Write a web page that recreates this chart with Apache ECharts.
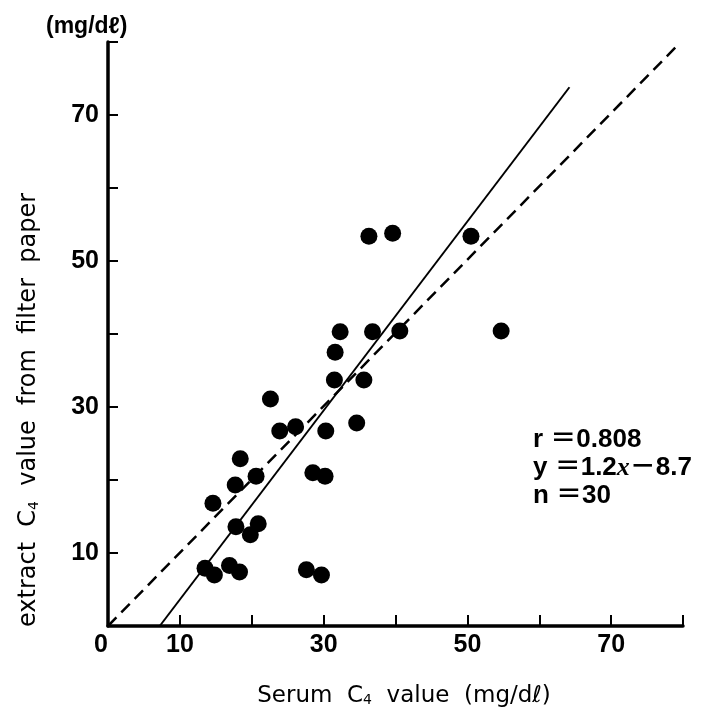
<!DOCTYPE html>
<html>
<head>
<meta charset="utf-8">
<script src="https://cdn.jsdelivr.net/npm/echarts@6/dist/echarts.min.js"></script>
<style>
html,body{margin:0;padding:0;background:#fff;}
#chart{width:705px;height:714px;}
</style>
</head>
<body>
<div id="chart"></div>
<script>
// ---- data ----
const serumC4 = [32.3, 36.8, 40.6, 31.6, 31.5, 35.6, 22.6, 23.9, 26.1, 30.3, 34.6, 18.4, 20.6, 17.7, 28.5, 30.2, 14.6, 17.8, 20.9, 19.8, 13.5, 14.8, 16.9, 18.3, 27.6, 29.7, 36.3, 39.6, 50.5, 54.7];
const paperC4 = [40.3, 40.3, 40.4, 37.5, 33.7, 33.7, 31.1, 26.7, 27.3, 26.7, 27.8, 22.9, 20.5, 19.3, 21.0, 20.5, 16.8, 13.6, 14.0, 12.5, 7.9, 7.0, 8.3, 7.4, 7.7, 7.0, 53.4, 53.8, 53.4, 40.4];
const regLineX = [7.2, 64.2];
const regLineY = [0, 73.8];
const identityX = [0, 79.5];
const identityY = [0, 79.8];
const xTickLabels = ['0', '10', '30', '50', '70'];
const yTickLabels = ['10', '30', '50', '70'];
const statLines = ['r ＝0.808', 'y ＝1.2{i|x}－8.7', 'n ＝30'];

const BOLD = "'Liberation Sans', 'Noto Sans CJK JP', sans-serif";
const REG = "'DejaVu Sans', 'Liberation Sans', sans-serif";

const zip = (a, b) => a.map((v, i) => [v, b[i]]);

const chart = echarts.init(document.getElementById('chart'), null, {renderer: 'canvas'});
const option = {
  backgroundColor: '#fff',
  animation: false,
  title: {
    text: '(mg/dℓ)',
    left: 41, top: 10,
    textStyle: {fontFamily: BOLD, fontWeight: 'bold', fontSize: 23, color: '#000'}
  },
  grid: {left: 108, right: 22, top: 42, bottom: 88, containLabel: false},
  xAxis: {
    type: 'value', min: 0, max: 80, interval: 10,
    splitLine: {show: false},
    axisLine: {show: true, onZero: false, lineStyle: {color: '#000', width: 3.5}},
    axisTick: {show: true, inside: true, length: 11, lineStyle: {color: '#000', width: 2}},
    axisLabel: {
      show: true, margin: 7, color: '#000', fontFamily: BOLD, fontWeight: 'bold', fontSize: 25,
      alignMinLabel: 'right',
      formatter: v => xTickLabels.includes(String(v)) ? String(v) : ''
    }
  },
  yAxis: {
    type: 'value', min: 0, max: 80, interval: 10,
    splitLine: {show: false},
    axisLine: {show: true, onZero: false, lineStyle: {color: '#000', width: 3.5}},
    axisTick: {show: true, inside: true, length: 10, lineStyle: {color: '#000', width: 2}},
    axisLabel: {
      show: true, margin: 9, color: '#000', fontFamily: BOLD, fontWeight: 'bold', fontSize: 25,
      formatter: v => yTickLabels.includes(String(v)) ? String(v) : ''
    }
  },
  graphic: [
    {
      type: 'text', x: 404, y: 696,
      style: {
        text: '{a|Serum  C}{s|4}{a|  value  (mg/dℓ)}',
        align: 'center', verticalAlign: 'middle',
        rich: {
          a: {fontFamily: REG, fontSize: 23, fill: '#000', color: '#000'},
          s: {fontFamily: REG, fontSize: 14, fill: '#000', color: '#000', verticalAlign: 'bottom', padding: [9, 0, 0, 0]}
        }
      }
    },
    {
      type: 'text', x: 29, y: 410, rotation: Math.PI / 2,
      style: {
        text: '{a|extract  C}{s|4}{a|  value  from  filter  paper}',
        align: 'center', verticalAlign: 'middle',
        rich: {
          a: {fontFamily: REG, fontSize: 24, fill: '#000', color: '#000'},
          s: {fontFamily: REG, fontSize: 14, fill: '#000', color: '#000', verticalAlign: 'bottom', padding: [9, 0, 0, 0]}
        }
      }
    }
  ].concat(statLines.map((t, i) => ({
    type: 'text', x: 533, y: 440 + i * 28,
    style: {
      text: t, align: 'left', verticalAlign: 'middle',
      fontFamily: BOLD, fontWeight: 'bold', fontSize: 26, fill: '#000',
      rich: {
        i: {fontFamily: "'Liberation Serif', 'DejaVu Serif', serif", fontStyle: 'italic', fontWeight: 'bold', fontSize: 26, fill: '#000', color: '#000'}
      }
    }
  }))),
  series: [
    {
      type: 'line', name: 'identity', data: zip(identityX, identityY),
      symbol: 'none', silent: true,
      lineStyle: {color: '#000', width: 2.5, type: [12, 7]}
    },
    {
      type: 'line', name: 'regression', data: zip(regLineX, regLineY),
      symbol: 'none', silent: true,
      lineStyle: {color: '#000', width: 2}
    },
    {
      type: 'scatter', name: 'samples', data: zip(serumC4, paperC4),
      symbol: 'circle', symbolSize: 17,
      itemStyle: {color: '#000', opacity: 1}
    }
  ]
};
chart.setOption(option);
</script>
</body>
</html>
